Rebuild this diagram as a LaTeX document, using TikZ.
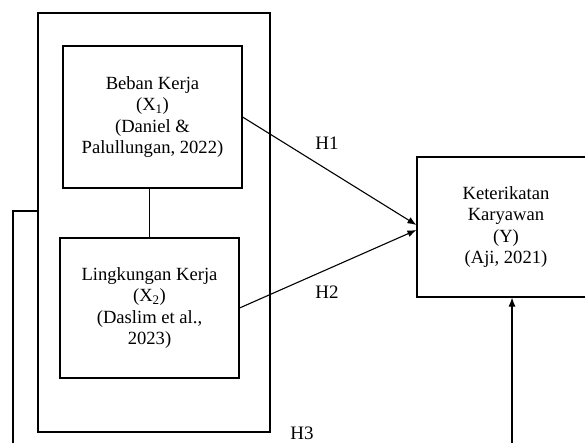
\documentclass[tikz,border=0pt]{standalone}
\usepackage{fontspec}
\setmainfont{Liberation Serif}
\usepackage{tikz}
\usetikzlibrary{arrows.meta}

\begin{document}
\begin{tikzpicture}[x=1pt,y=-1pt,line width=1.1pt,
  box/.style={draw,rectangle,align=center,inner sep=0pt,font=\fontsize{18.6}{21.3}\selectfont},
  hyp/.style={inner sep=0pt,font=\fontsize{19}{21}\selectfont},
  tip/.style={-{Latex[length=9pt,width=7pt]}}]
\useasboundingbox (0,0) rectangle (585,443);
\clip (0,0) rectangle (585,443);

\node[box,minimum width=232,minimum height=419] (outer) at (154,222.5) {};
\node[box,minimum width=179,minimum height=142] (x1) at (152.5,117)
  {Beban Kerja\\(X\textsubscript{1})\\(Daniel \&\\Palullungan, 2022)};
\node[box,minimum width=179,minimum height=140] (x2) at (149.5,308)
  {Lingkungan Kerja\\(X\textsubscript{2})\\(Daslim et al.,\\2023)};
\node[box,minimum width=178,minimum height=140] (y) at (506,227)
  {Keterikatan\\Karyawan\\(Y)\\(Aji, 2021)};

\draw (x1.south -| x2.north) -- (x2.north);

\draw[tip] (x1.east) -- ([yshift=2pt]y.west);
\draw[tip] (x2.east) -- ([yshift=-3pt]y.west);

\coordinate (lb) at (13,450);
\draw ([yshift=11.5pt]outer.west) -| (lb);
\coordinate (yb) at (512,450);
\draw[tip] (yb) -- (yb |- y.south);

\node[hyp] (h1) at (327,143) {H1};
\node[hyp] (h2) at (327,292) {H2};
\node[hyp] (h3) at (302,433) {H3};

\end{tikzpicture}
\end{document}
